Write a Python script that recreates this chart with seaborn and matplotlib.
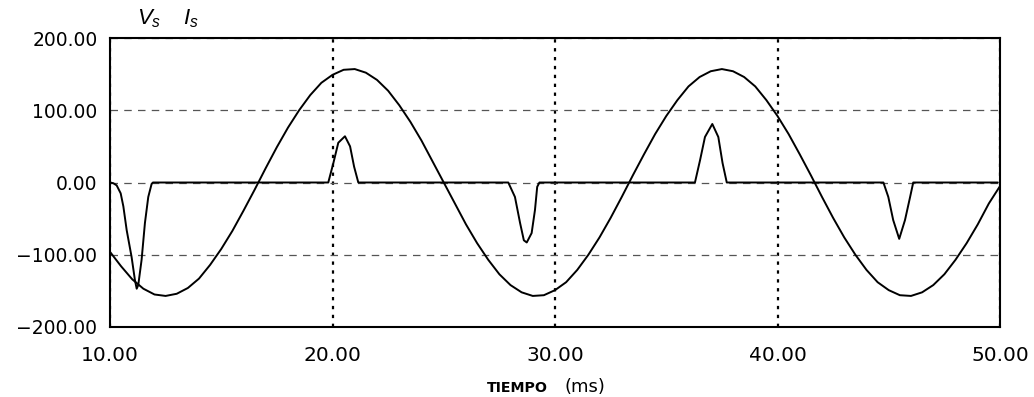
import matplotlib
matplotlib.use("Agg")
import matplotlib.pyplot as plt
import seaborn as sns
import pandas as pd

# ---- data ----
t_v = [10.0 + 0.5 * k for k in range(81)]
v_s = [-96, -116, -134, -147, -155, -157, -154, -146, -133, -114,
       -92, -67, -39, -10, 20, 49, 76, 100, 121, 138,
       149, 156, 157, 152, 142, 127, 107, 84, 58, 29,
       0, -29, -58, -84, -107, -127, -142, -152, -157, -156,
       -149, -138, -121, -100, -76, -49, -20, 10, 39, 67,
       92, 114, 133, 146, 154, 157, 154, 146, 133, 114,
       92, 67, 39, 10, -20, -49, -76, -100, -121, -138,
       -149, -156, -157, -152, -142, -127, -107, -84, -58, -29,
       -5]

t_i = [10.0, 10.15, 10.3, 10.48, 10.6, 10.75, 10.97, 11.12, 11.2,
       11.27, 11.42, 11.57, 11.72, 11.87, 11.93,
       19.81, 20.04, 20.26, 20.56, 20.79, 20.97, 21.16,
       27.9, 28.2, 28.43, 28.6, 28.73, 28.95, 29.1, 29.2, 29.3,
       36.29, 36.52, 36.74, 37.07, 37.34, 37.53, 37.72,
       44.76, 44.98, 45.2, 45.47, 45.73, 45.96, 46.1,
       49.9]
i_s = [0, -1, -4, -15, -33, -66, -103, -135, -147,
       -142, -107, -56, -20, -2, 0,
       0, 27, 55, 64, 50, 22, 0,
       0, -20, -56, -80, -83, -70, -38, -6, 0,
       0, 31, 63, 81, 63, 27, 0,
       0, -20, -52, -78, -52, -20, 0,
       0]

x_ticks = [10, 20, 30, 40, 50]
y_ticks = [-200, -100, 0, 100, 200]
x_tick_labels = ["10.00", "20.00", "30.00", "40.00", "50.00"]
y_tick_labels = ["-200.00", "-100.00", "0.00", "100.00", "200.00"]

df_v = pd.DataFrame({"t": t_v, "v": v_s})
df_i = pd.DataFrame({"t": t_i, "i": i_s})

sns.set_theme(style="white")
plt.rcParams["font.family"] = ["DejaVu Sans"]
plt.rcParams["text.color"] = "black"
plt.rcParams["mathtext.fontset"] = "custom"
plt.rcParams["mathtext.rm"] = "Liberation Sans"
plt.rcParams["mathtext.it"] = "Liberation Sans:italic"

fig = plt.figure(figsize=(10.34, 3.97), dpi=100)
ax = fig.add_axes([110 / 1034, 70 / 397, 890 / 1034, 289 / 397])

sns.lineplot(data=df_v, x="t", y="v", ax=ax, color="black", linewidth=1.4,
             estimator=None, sort=False)
sns.lineplot(data=df_i, x="t", y="i", ax=ax, color="black", linewidth=1.4,
             estimator=None, sort=False)

ax.set_xlim(10, 50)
ax.set_ylim(-200, 200)
ax.set_xticks(x_ticks)
ax.set_xticklabels(x_tick_labels)
ax.set_yticks(y_ticks)
ax.set_yticklabels([s.replace("-", "\u2212") for s in y_tick_labels])
ax.tick_params(axis="both", length=0, colors="black", labelcolor="black")
ax.tick_params(axis="y", pad=9, labelsize=13.5)
ax.tick_params(axis="x", pad=14, labelsize=14.5)

ax.set_axisbelow(True)
ax.yaxis.grid(True, linestyle=(0, (6, 5)), color="#555555", linewidth=0.9)
ax.xaxis.grid(True, linestyle=(0, (1.5, 2.5)), color="black", linewidth=1.6)

for sp in ax.spines.values():
    sp.set_color("black")
    sp.set_linewidth(1.5)
    sp.set_visible(True)

ax.set_xlabel("")
ax.set_ylabel("")

fig.text(548 / 1034, 0.012, "TIEMPO", fontsize=10.2, fontweight="bold",
         ha="right", va="baseline", color="black")
fig.text(565 / 1034, 0.012, "(ms)", fontsize=13, ha="left", va="baseline", color="black")

fig.text(137 / 1034, 1 - 24 / 397, r"$V_s$", fontsize=16, ha="left", va="baseline", color="black")
fig.text(183 / 1034, 1 - 24 / 397, r"$I_s$", fontsize=16, ha="left", va="baseline", color="black")

fig.savefig("out.png", dpi=100, facecolor="white")
